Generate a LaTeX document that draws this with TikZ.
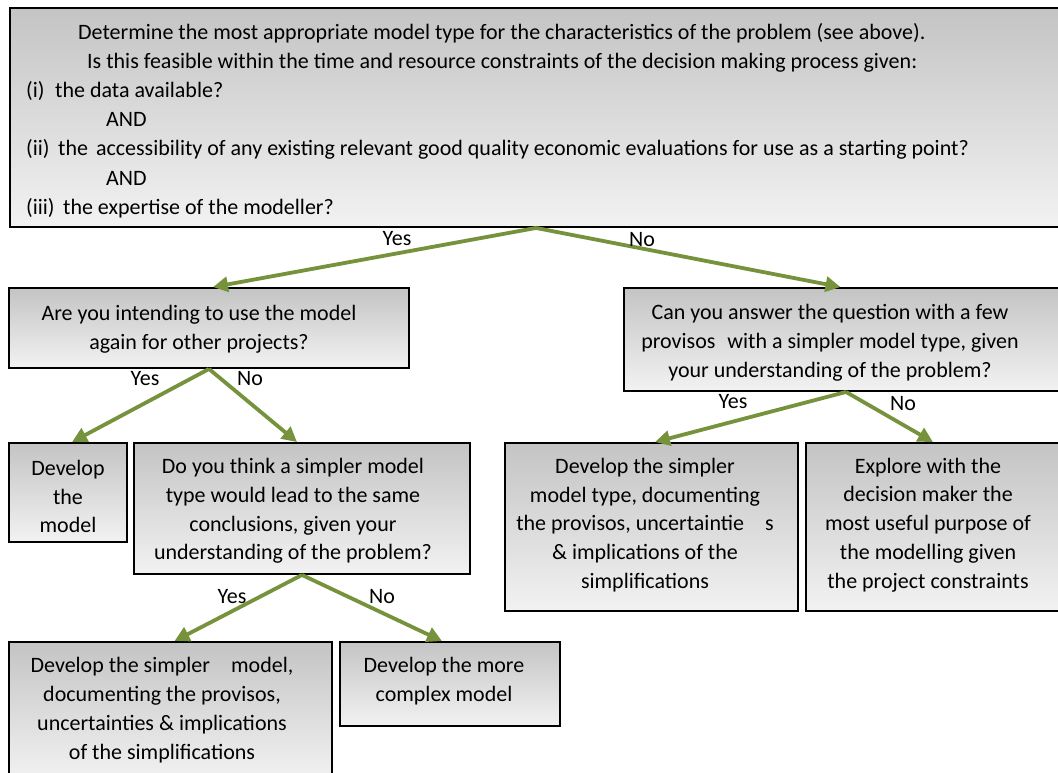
\documentclass[tikz,border=0pt]{standalone}
\usepackage{fontspec}
\setmainfont{Carlito}
\usetikzlibrary{arrows.meta,calc}
\definecolor{arrowgreen}{RGB}{118,146,60}
\definecolor{boxtop}{RGB}{196,196,196}
\definecolor{boxbot}{RGB}{242,242,242}
\begin{document}
\begin{tikzpicture}[x=1pt,y=-1pt,
  box/.style={draw=black, line width=1.9pt, top color=boxtop, bottom color=boxbot, rectangle, inner sep=0pt},
  txt/.style={inner sep=0pt, align=center, font=\fontsize{22}{28.8}\selectfont},
  toptxt/.style={inner sep=0pt, align=left, font=\fontsize{22}{29.2}\selectfont},
  lbl/.style={inner sep=0pt, anchor=base, font=\fontsize{22}{25}\selectfont},
  arr/.style={draw=arrowgreen, line width=3.8pt, -{Triangle[length=15pt,width=15pt]}}]
\useasboundingbox (0,0) rectangle (1058,772);
\clip (0,0) rectangle (1058,772);
% boxes
\node[box, minimum width=1055, minimum height=219] (top) at (537.5,117.5) {};
\node[box, minimum width=400, minimum height=80] (A) at (209,328) {};
\node[box, minimum width=441, minimum height=103] (B) at (844.5,339.5) {};
\node[box, minimum width=118, minimum height=99] (DM) at (68,492.5) {};
\node[box, minimum width=336, minimum height=131] (DT) at (302,508.5) {};
\node[box, minimum width=293, minimum height=168] (ST) at (651.5,527) {};
\node[box, minimum width=259, minimum height=168] (EX) at (935.5,527) {};
\node[box, minimum width=323, minimum height=138] (DS) at (170.5,711) {};
\node[box, minimum width=220, minimum height=84] (MC) at (450,684) {};
% texts
\node[toptxt, anchor=west] (toptext) at (26,120.5) {\hspace*{52pt}Determine the most appropriate model type for the characteristics of the problem (see above).\\
\hspace*{61pt}Is this feasible within the time and resource constraints of the decision making process given:\\
\makebox[29pt][l]{(i)}the data available?\\
\hspace*{80pt}AND\\
\makebox[32pt][l]{(ii)}the\hspace{8pt}accessibility of any existing relevant good quality economic evaluations for use as a starting point?\\
\hspace*{80pt}AND\\
\makebox[37pt][l]{(iii)}the expertise of the modeller?};
\node[txt] (At) at (199,329) {Are you intending to use the model\\again for other projects?};
\node[txt] (Bt) at (830,342.5) {Can you answer the question with a few\\provisos\hspace{12pt}with a simpler model type, given\\your understanding of the problem?};
\node[txt] (DMt) at (68,496.5) {Develop\\the\\model};
\node[txt] (DTt) at (293,511) {Do you think a simpler model\\type would lead to the same\\conclusions, given your\\understanding of the problem?};
\node[txt] (STt) at (645,525) {Develop the simpler\\model type, documenting\\the provisos, uncertaintie\hspace{21pt}s\\\& implications of the\\simplifications};
\node[txt] (EXt) at (928,525) {Explore with the\\decision maker the\\most useful purpose of\\the modelling given\\the project constraints};
\node[txt] (DSt) at (162,710) {Develop the simpler\hspace{21pt}model,\\documenting the provisos,\\uncertainties \& implications\\of the simplifications};
\node[txt] (MCt) at (444,681) {Develop the more\\complex model};
% arrows
\coordinate (t0) at ($(top.south west)+(527,0)$);
\draw[arr] (t0) -- ([xshift=4pt]A.north);
\draw[arr] (t0) -- ([xshift=-4pt]B.north);
\draw[arr] (A.south) -- ([xshift=4pt]DM.north);
\draw[arr] (A.south) -- ([xshift=-5pt]DT.north);
\draw[arr] ([xshift=1.5pt]B.south) -- ([xshift=3.5pt]ST.north);
\draw[arr] ([xshift=1.5pt]B.south) -- ([xshift=-2.5pt]EX.north);
\draw[arr] (DT.south) -- ([xshift=4pt]DS.north);
\draw[arr] (DT.south) -- ([xshift=-8pt]MC.north);
% labels
\node[lbl] (y1) at (397,245) {Yes};
\node[lbl] (n1) at (642,246) {No};
\node[lbl] (y2) at (145,385) {Yes};
\node[lbl] (n2) at (250,385) {No};
\node[lbl] (y3) at (733,408) {Yes};
\node[lbl] (n3) at (903,410) {No};
\node[lbl] (y4) at (232,603) {Yes};
\node[lbl] (n4) at (382,603) {No};
\end{tikzpicture}
\end{document}
